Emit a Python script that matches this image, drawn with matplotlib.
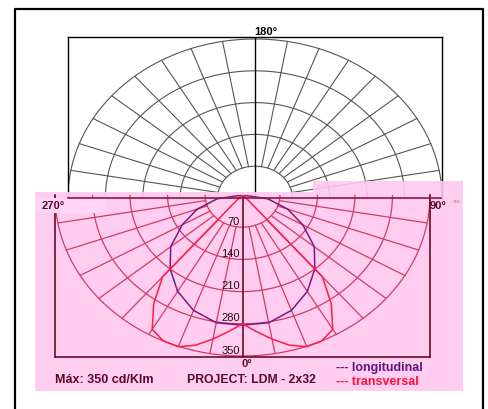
import matplotlib.pyplot as plt
import numpy as np
from matplotlib.patches import Rectangle

plt.rcParams['font.family'] = ['Liberation Sans', 'DejaVu Sans']

ang_long = [0, 10, 20, 30, 40, 50, 60, 70, 80, 90]
longitudinal = [283, 282, 267, 242, 210, 175, 130, 90, 48, 0]

ang_trans = [0, 5, 10, 15, 20, 25, 30, 35, 40, 45, 50, 55, 60, 65, 70, 75, 80, 85, 90]
transversal = [280, 298, 318, 338, 351, 350, 337, 289, 232, 10, 5, 3, 2, 1, 0, 0, 0, 0, 0]

rings = [70, 140, 210, 280, 350]
ring_labels = ['70', '140', '210', '280', '350']
spokes = [-80, -70, -60, -50, -40, -30, -20, -10, 10, 20, 30, 40, 50, 60, 70, 80]
rmax = 350

W, H = 488, 410


def box(x0, y0, x1, y1):
    return [x0 / W, 1 - y1 / H, (x1 - x0) / W, (y1 - y0) / H]


def mirror(ang, val):
    a = np.radians(np.concatenate([-np.array(ang[::-1]), np.array(ang[1:])]))
    r = np.concatenate([np.array(val[::-1]), np.array(val[1:])])
    return r * np.sin(a), r * np.cos(a)


fig = plt.figure(figsize=(W / 100, H / 100), dpi=100)
half = np.radians(np.linspace(-90, 90, 181))

# --- diagrama de cima (cinza) ---
ax_up = fig.add_axes(box(68, 38, 442, 199))
ax_up.set_zorder(1)
for r in rings:
    ax_up.plot(r * np.sin(half), r * np.cos(half), color='#555555', lw=0.8)
for s in spokes:
    a = np.radians(s)
    ax_up.plot([rings[0] * np.sin(a), rmax * np.sin(a)],
               [rings[0] * np.cos(a), rmax * np.cos(a)], color='#555555', lw=0.8)
ax_up.axvline(0, color='black', lw=1)
ax_up.set_xlim(-rmax, rmax)
ax_up.set_ylim(0, rmax * 161 / 159)
ax_up.set_xticks([])
ax_up.set_yticks([])
for sp in ax_up.spines.values():
    sp.set_color('black')
    sp.set_linewidth(1)

# --- fundo rosa ---
ax_bg = fig.add_axes([0, 0, 1, 1])
ax_bg.set_zorder(2)
ax_bg.patch.set_alpha(0)
ax_bg.set_xlim(0, W)
ax_bg.set_ylim(H, 0)
ax_bg.axis('off')
ax_bg.add_patch(Rectangle((35, 193), 428, 199, color='#ffc8ee', alpha=0.9, lw=0))
ax_bg.add_patch(Rectangle((313, 182), 150, 11, color='#ffc8ee', alpha=0.9, lw=0))

# --- diagrama de baixo (rosa) ---
ax_low = fig.add_axes(box(55, 196, 430, 358))
ax_low.set_zorder(3)
ax_low.patch.set_alpha(0)
grid_c = '#d03c64'
for r in rings:
    ax_low.plot(r * np.sin(half), -r * np.cos(half), color=grid_c, lw=0.9)
for s in spokes:
    a = np.radians(s)
    ax_low.plot([rings[0] * np.sin(a), rmax * np.sin(a)],
                [-rings[0] * np.cos(a), -rmax * np.cos(a)], color=grid_c, lw=0.9)
ax_low.axvline(0, color='#6a0a2a', lw=1.2)

x, y = mirror(ang_long, longitudinal)
ax_low.plot(x, -y, color='#7a1a80', lw=1.1)
x, y = mirror(ang_trans, transversal)
ax_low.plot(x, -y, color='#ff1a4a', lw=1.1)

for r, lab in zip(rings, ring_labels):
    ax_low.annotate(lab, xy=(0, -r), xytext=(-2, 1), textcoords='offset points',
                    ha='right', va='bottom', fontsize=8, color='#2a0a14')

ax_low.set_xlim(-rmax, rmax)
ax_low.set_ylim(-rmax * 162 / 161, 0)
ax_low.set_xticks([])
ax_low.set_yticks([])
ax_low.spines['top'].set_visible(False)
for k in ['left', 'right', 'bottom']:
    ax_low.spines[k].set_color('#6a0a2a')
    ax_low.spines[k].set_linewidth(1.2)

# --- camada de cima: moldura e textos ---
ax_top = fig.add_axes([0, 0, 1, 1])
ax_top.set_zorder(4)
ax_top.patch.set_alpha(0)
ax_top.set_xlim(0, W)
ax_top.set_ylim(H, 0)
ax_top.axis('off')
ax_top.add_patch(Rectangle((35, 199), 72, 15, color='#ffd4f6', lw=0))
ax_top.plot([68, 441], [199, 199], color='#8a1a48', lw=1.2)
ax_top.plot([15, 15, 483, 483], [410, 10, 10, 410], color='black', lw=1.6)

dark = '#5a0a28'
ax_top.text(254, 32, '180°', fontsize=8, fontweight='bold', color='black', ha='left', va='center')
ax_top.text(42, 206, '270°', fontsize=8, fontweight='bold', color=dark, ha='left', va='center')
ax_top.text(430, 206, '90°', fontsize=8, fontweight='bold', color=dark, ha='left', va='center')
ax_top.text(452, 204, '°°', fontsize=7, color='#b08898', ha='left', va='center')
ax_top.text(242, 364, '0°', fontsize=8, fontweight='bold', color=dark, ha='left', va='center')
ax_top.text(55, 380, 'Máx: 350 cd/Klm', fontsize=9, fontweight='bold', color=dark, ha='left', va='center')
ax_top.text(187, 380, 'PROJECT: LDM - 2x32', fontsize=8.8, fontweight='bold', color=dark, ha='left', va='center')
ax_top.text(336, 368, '--- longitudinal', fontsize=9, fontweight='bold', color='#5e1680', ha='left', va='center')
ax_top.text(336, 382, '--- transversal', fontsize=9, fontweight='bold', color='#ff1040', ha='left', va='center')

plt.savefig('out.png', dpi=100)
